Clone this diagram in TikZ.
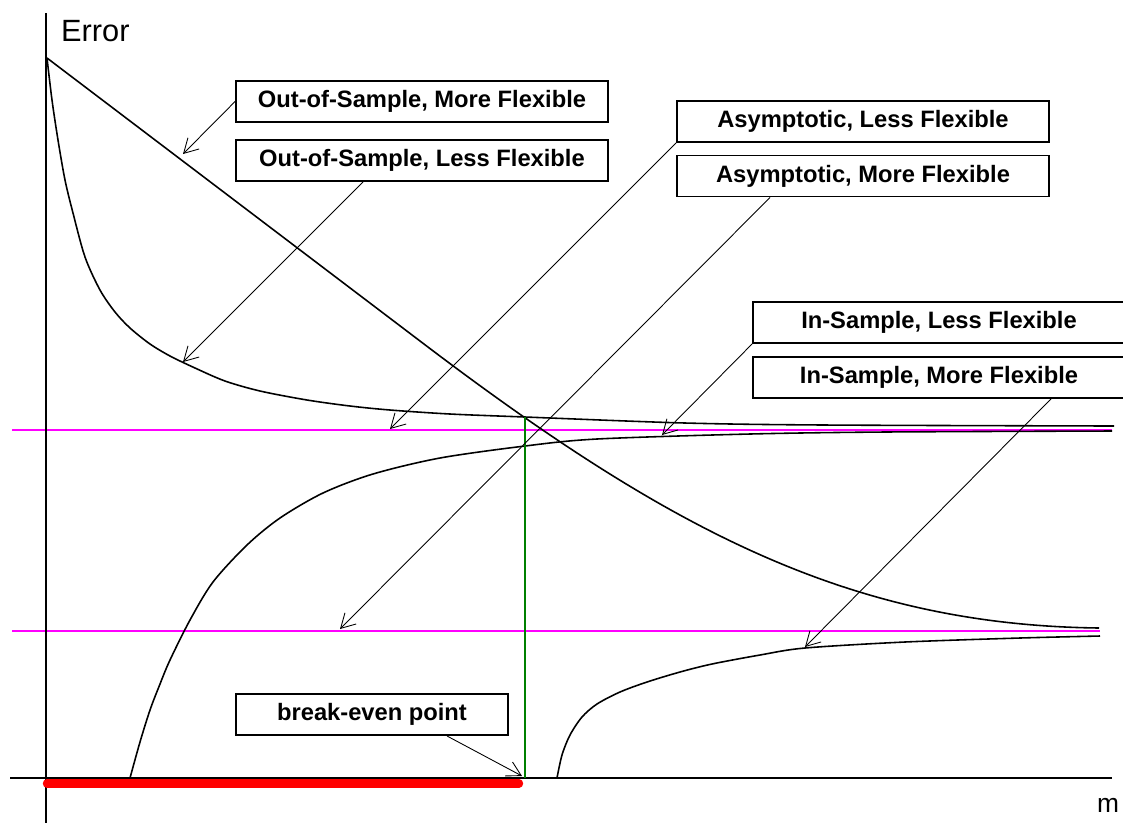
\documentclass[tikz,border=0pt]{standalone}
\usepackage{fontspec}
\setmainfont{Liberation Sans}
\usetikzlibrary{arrows.meta}
\definecolor{fuchsia}{RGB}{255,0,255}
\definecolor{darkgreen}{RGB}{0,128,0}

\tikzset{
    lbl/.style={draw, line width=1.1pt, minimum width=7.44cm, minimum height=0.82cm, inner sep=0pt,
        font=\fontsize{13.5}{16}\selectfont\bfseries},
    ptr/.style={-{Straight Barb[length=8pt,width=9pt]}, line width=0.5pt},
    curve/.style={smooth, line width=0.9pt}
}

\begin{document}
\begin{tikzpicture}[x=0.02cm, y=-0.02cm]
    \useasboundingbox (0,0) rectangle (1123,823);
    % asymptotic levels
    \draw[fuchsia, line width=1.1pt] (12,430) -- (1112,430);
    \draw[fuchsia, line width=1.1pt] (12,631) -- (1100,631);
    % axes
    \draw[line width=0.9pt] (46,13) -- (46,823);
    \draw[line width=0.9pt] (10,778) -- (1112,778);
    \draw (55,41) node[anchor=base west, font=\fontsize{17.5}{20}\selectfont] (err) {Error};
    \draw (1091,812) node[anchor=base west, font=\fontsize{15}{18}\selectfont] (mlab) {m};
    % out-of-sample, less flexible
    \draw[curve] plot coordinates {(47,58) (52,100) (58,140) (65,180) (73,213) (85,257) (100,290)
        (115,312) (130,328) (150,344) (170,356) (195,368) (225,381) (260,391) (307,400) (350,406)
        (390,410) (450,414) (525,417) (685,423) (824,425) (1114,426)};
    % out-of-sample, more flexible
    \draw[line width=0.9pt] (47,58) -- (420,341) .. controls (670,531) and (850,625) .. (1099,628);
    % in-sample, less flexible
    \draw[curve] plot coordinates {(130,778) (140,742) (150,710) (160,684) (170,660) (190,620)
        (213,582) (247,545) (280,518) (323,493) (373,474) (440,458) (525,446) (597,439) (750,434)
        (885,432) (1112,431)};
    % in-sample, more flexible
    \draw[curve] plot coordinates {(557,778) (562,755) (570,735) (582,717) (597,704) (620,692)
        (647,682) (680,672) (712,664) (760,655) (805,648) (905,642) (1020,638) (1100,636)};
    % break-even
    \draw[darkgreen, line width=0.9pt] (525,417) -- (525,778);
    \draw[red, line width=4.8pt, line cap=round] (47,783.5) -- (519,783.5);
    % labels
    \node[lbl] (osmf) at (422,101.5) {Out-of-Sample, More Flexible};
    \node[lbl] (oslf) at (422,160.5) {Out-of-Sample, Less Flexible};
    \node[lbl] (alf) at (863,121.5) {Asymptotic, Less Flexible};
    \node[lbl] (amf) at (863,176) {Asymptotic, More Flexible};
    \node[lbl] (islf) at (939,322.5) {In-Sample, Less Flexible};
    \node[lbl] (ismf) at (939,377.5) {In-Sample, More Flexible};
    \node[lbl, minimum width=5.44cm] (beven) at (372,714.5) {break-even point};
    % pointers
    \coordinate (osmf-end) at (183,154);
    \coordinate (oslf-end) at (183,362);
    \coordinate (alf-end) at (390,429);
    \coordinate (amf-end) at (340,629);
    \coordinate (islf-end) at (662,435);
    \coordinate (ismf-end) at (805,647);
    \coordinate (beven-end) at (522,776);
    \draw[ptr] (osmf.west) -- (osmf-end);
    \draw[ptr] ([xshift=-1.18cm]oslf.south) -- (oslf-end);
    \draw[ptr] (alf.south west) -- (alf-end);
    \draw[ptr] ([xshift=-1.86cm]amf.south) -- (amf-end);
    \draw[ptr] (islf.south west) -- (islf-end);
    \draw[ptr] ([xshift=2.24cm]ismf.south) -- (ismf-end);
    \draw[ptr] ([xshift=1.5cm]beven.south) -- (beven-end);
\end{tikzpicture}
\end{document}
